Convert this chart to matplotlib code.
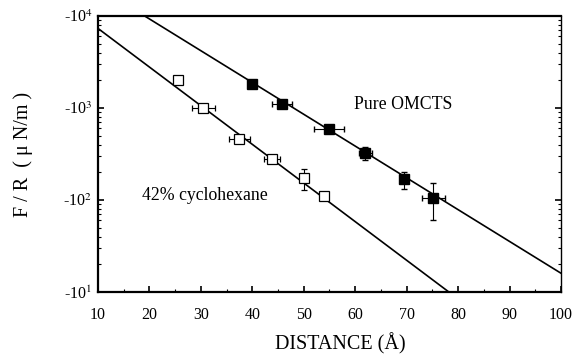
import matplotlib.pyplot as plt
import numpy as np
from matplotlib.ticker import FixedLocator, FuncFormatter, MultipleLocator

plt.rcParams['font.family'] = ['Liberation Serif', 'DejaVu Serif']
plt.rcParams['mathtext.fontset'] = 'stix'

# pure OMCTS (filled squares)
omcts_d = [40.0, 45.8, 54.9, 62.0, 69.5, 75.2]
omcts_f = [1810, 1115, 590, 322, 168, 106]
omcts_derr = [0.6, 1.9, 2.9, 1.3, 0.5, 2.3]
omcts_ferr = [60, 110, 40, 50, 35, 46]

# 42% cyclohexane (open squares)
cyc_d = [25.6, 30.5, 37.5, 43.8, 50.1, 54.0]
cyc_f = [2010, 1005, 465, 277, 172, 111]
cyc_derr = [0.5, 2.2, 2.1, 1.5, 0.5, 0.5]
cyc_ferr = [60, 40, 25, 15, 44, 5]

# exponential fits: log10|F/R| = a - b * D
omcts_fit = (4.66, 0.03457)
cyc_fit = (4.286, 0.04203)

fig = plt.figure(figsize=(5.76, 3.56), dpi=100)
ax = fig.add_axes([0.170, 0.180, 0.804, 0.775])

d = np.linspace(10, 100, 400)
for a, b in (omcts_fit, cyc_fit):
    ax.plot(d, 10 ** (a - b * d), color='black', lw=1.2, zorder=2)

ax.errorbar(omcts_d, omcts_f, xerr=omcts_derr, yerr=omcts_ferr, fmt='s',
            ms=6.5, mfc='black', mec='black', ecolor='black', elinewidth=0.8,
            capsize=2, zorder=3)
ax.errorbar(cyc_d, cyc_f, xerr=cyc_derr, yerr=cyc_ferr, fmt='s',
            ms=6.5, mfc='white', mec='black', mew=0.9, ecolor='black',
            elinewidth=0.8, capsize=2, zorder=3)

ax.set_yscale('log')
ax.set_xlim(10, 100)
ax.set_ylim(10, 1e4)

ax.xaxis.set_major_locator(MultipleLocator(10))
ax.xaxis.set_minor_locator(MultipleLocator(5))
ax.yaxis.set_major_locator(FixedLocator([10, 100, 1000, 10000]))
ax.yaxis.set_major_formatter(FuncFormatter(
    lambda v, pos: r'-10$^{%d}$' % round(np.log10(v))))

ax.tick_params(which='both', direction='in', top=False, right=True,
               labelsize=11.5)
ax.tick_params(which='major', length=4, width=1.2)
ax.tick_params(which='minor', length=2, width=0.8)
ax.tick_params(axis='x', pad=11)
ax.tick_params(axis='y', pad=4)

for side in ('left', 'bottom', 'top'):
    ax.spines[side].set_linewidth(1.6)
ax.spines['right'].set_linewidth(1.0)

ax.text(59.8, 1080, 'Pure OMCTS', fontsize=12.8, va='center', ha='left')
ax.text(18.6, 113, '42% cyclohexane', fontsize=12.8, va='center', ha='left')

ax.set_xlabel('DISTANCE (Å)', fontsize=14.5)
ax.xaxis.set_label_coords(0.523, -0.149)
ax.set_ylabel('F / R  ( μ N/m )', fontsize=14.5, labelpad=22)

fig.savefig('out.png', dpi=100)
